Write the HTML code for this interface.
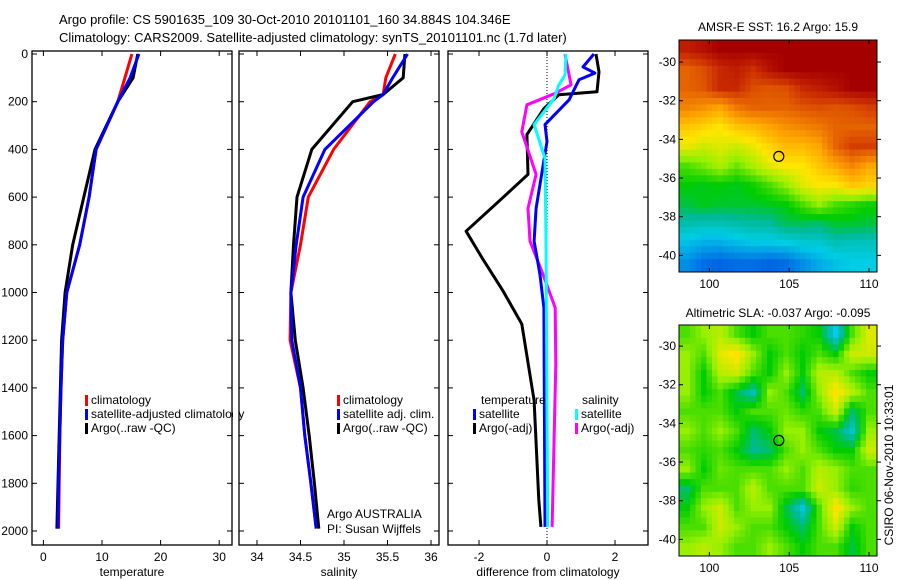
<!DOCTYPE html>
<html><head><meta charset="utf-8"><style>
html,body{margin:0;padding:0;background:#fff;}
svg{display:block;font-family:"Liberation Sans",sans-serif;}
text{font-size:12px;fill:#000;}
</style></head><body>
<svg id="fig" width="900" height="580" viewBox="0 0 900 580">
<text x="59" y="24" style="font-size:13px">Argo profile: CS 5901635_109 30-Oct-2010 20101101_160 34.884S 104.346E</text>
<text x="59" y="42" style="font-size:13px">Climatology: CARS2009. Satellite-adjusted climatology: synTS_20101101.nc (1.7d later)</text>
<g id="g"></g>
</svg>
<script>
// ---- data ----
const tDepth=[0,100,200,400,600,800,1000,1200,1400,1600,1800,1990];
const tempClim=[15.1,13.9,12.7,9.0,7.8,6.2,4.0,3.3,3.0,2.8,2.7,2.6];
const tempSat=[16.3,14.8,12.7,9.0,7.8,6.2,4.0,3.3,3.0,2.8,2.6,2.5];
const tempArgo=[16.1,15.3,12.7,8.8,6.9,5.0,3.7,3.1,2.9,2.7,2.5,2.3];
const sDepth=[0,100,170,200,400,600,800,1000,1200,1400,1600,1800,1990];
const salClim=[35.59,35.48,35.45,35.3,34.88,34.59,34.5,34.39,34.38,34.5,34.55,34.62,34.68];
const salSat=[35.73,35.56,35.45,35.34,34.78,34.53,34.45,34.39,34.4,34.5,34.55,34.62,34.68];
const salArgo=[35.7,35.68,35.45,35.1,34.63,34.46,34.42,34.39,34.44,34.53,34.6,34.66,34.71];
const dTempSatDepth=[0,54,80,108,192,296,367,647,785,923,1064,1983];
const dTempSat=[1.38,1.06,1.41,0.94,0.65,-0.06,0,-0.32,-0.38,-0.21,-0.09,-0.06];
const dTempArgoDepth=[0,75,158,171,229,338,505,605,743,855,994,1132,1453,1870,1983];
const dTempArgo=[1.44,1.53,1.47,0.35,-0.09,-0.59,-0.56,-1.32,-2.38,-1.91,-1.29,-0.74,-0.38,-0.24,-0.18];
const dSalSatDepth=[0,88,129,187,296,438,785,1983];
const dSalSat=[0.56,0.53,0.35,0.21,-0.38,-0.06,-0.03,0.02];
const dSalArgoDepth=[0,88,129,167,213,326,505,647,785,923,1064,1300,1983];
const dSalArgo=[0.53,0.65,0.71,0.21,-0.59,-0.74,-0.32,-0.56,-0.5,-0.12,0.24,0.26,0.15];
const depthTicks=[0,200,400,600,800,1000,1200,1400,1600,1800,2000];
const tempTicks=[0,10,20,30];
const salTicks=[34,34.5,35,35.5,36];
const salTickLabels=["34","34.5","35","35.5","36"];
const diffTicks=[-2,0,2];
const sstGrid=[
[0.95,0.97,1,1,1,1,1,1,1,1,1,1],
[0.85,0.88,0.93,0.95,0.92,0.97,1,1,1,1,1,1],
[0.85,0.87,0.93,0.93,0.88,0.87,0.88,0.93,0.95,0.97,1,1],
[0.8,0.78,0.75,0.82,0.85,0.85,0.85,0.87,0.88,0.87,0.88,0.9],
[0.7,0.68,0.65,0.7,0.72,0.75,0.78,0.8,0.82,0.85,0.85,0.85],
[0.63,0.6,0.62,0.6,0.63,0.68,0.72,0.72,0.75,0.85,0.9,0.9],
[0.5,0.53,0.57,0.52,0.57,0.62,0.65,0.65,0.7,0.75,0.8,0.75],
[0.45,0.44,0.45,0.44,0.46,0.5,0.55,0.62,0.65,0.65,0.7,0.68],
[0.42,0.44,0.43,0.43,0.43,0.44,0.45,0.5,0.55,0.5,0.48,0.46],
[0.36,0.35,0.35,0.36,0.37,0.37,0.41,0.41,0.4,0.43,0.43,0.42],
[0.28,0.25,0.25,0.27,0.29,0.29,0.3,0.32,0.32,0.35,0.34,0.34],
[0.2,0.15,0.13,0.15,0.15,0.13,0.15,0.2,0.25,0.28,0.3,0.3]];
const slaGrid=[
[0.5,0.55,0.58,0.5,0.45,0.5,0.5,0.48,0.45,0.3,0.5,0.62],
[0.55,0.5,0.62,0.66,0.55,0.45,0.5,0.45,0.5,0.45,0.6,0.6],
[0.55,0.45,0.58,0.6,0.5,0.45,0.55,0.45,0.58,0.58,0.5,0.45],
[0.55,0.45,0.5,0.42,0.35,0.55,0.5,0.4,0.55,0.66,0.58,0.5],
[0.5,0.5,0.5,0.45,0.5,0.5,0.52,0.48,0.5,0.6,0.4,0.5],
[0.55,0.5,0.55,0.5,0.4,0.45,0.55,0.55,0.45,0.42,0.33,0.55],
[0.5,0.48,0.5,0.45,0.38,0.4,0.5,0.55,0.5,0.45,0.45,0.6],
[0.55,0.45,0.52,0.5,0.5,0.5,0.55,0.5,0.58,0.55,0.5,0.5],
[0.4,0.5,0.5,0.5,0.58,0.5,0.5,0.5,0.6,0.55,0.48,0.5],
[0.45,0.55,0.6,0.5,0.55,0.55,0.42,0.32,0.5,0.66,0.55,0.5],
[0.5,0.5,0.6,0.55,0.5,0.5,0.45,0.4,0.5,0.6,0.45,0.5],
[0.55,0.58,0.55,0.5,0.5,0.55,0.5,0.45,0.5,0.5,0.42,0.5]];
const lonTicks=[100,105,110];
const latTicks=[-30,-32,-34,-36,-38,-40];
const latTickLabels=["-30","-32","-34","-36","-38","-40"];
const argoLon=104.35, argoLat=-34.88;

// ---- helpers ----
const NS="http://www.w3.org/2000/svg";
const G=document.getElementById('g');
function mk(tag,attrs,parent){const e=document.createElementNS(NS,tag);for(const k in attrs)e.setAttribute(k,attrs[k]);(parent||G).appendChild(e);return e;}
function lin(d0,d1,r0,r1){return v=>r0+(v-d0)*(r1-r0)/(d1-d0);}
const PT=51,PB=545;
const yD=lin(0,2000,54,531);

function panel(name,x0,x1,xs,ticks,labels,xlabel,showY){
  const p=mk('rect',{x:x0,y:PT,width:x1-x0,height:PB-PT,fill:'none',stroke:'#000','stroke-width':1.3});
  
  
  ticks.forEach((t,i)=>{const x=xs(t);
    mk('line',{x1:x,x2:x,y1:PB,y2:PB-5,stroke:'#000'});mk('line',{x1:x,x2:x,y1:PT,y2:PT+5,stroke:'#000'});
    const tx=mk('text',{x:x,y:PB+16,'text-anchor':'middle'});tx.textContent=labels[i];
    
    });
  depthTicks.forEach(d=>{const y=yD(d);
    mk('line',{x1:x0,x2:x0+5,y1:y,y2:y,stroke:'#000'});mk('line',{x1:x1,x2:x1-5,y1:y,y2:y,stroke:'#000'});
    if(showY){const tx=mk('text',{x:x0-4,y:y+4,'text-anchor':'end'});tx.textContent=d;
      
      }});
  const xl=mk('text',{x:(x0+x1)/2,y:576,'text-anchor':'middle'});xl.textContent=xlabel;
  
  
}
function series(name,xs,vals,depths,color){
  const pts=vals.map((v,i)=>xs(v).toFixed(1)+','+yD(depths[i]).toFixed(1)).join(' ');
  const l=mk('polyline',{points:pts,fill:'none',stroke:color,'stroke-width':3,'stroke-linejoin':'round'});
  
  
}
function legend(name,x,y,color,label){
  mk('rect',{x:x,y:y-9,width:3,height:11,fill:color});
  const t=mk('text',{x:x+6,y:y});t.textContent=label;
  
  
}

// panel 1 temperature
const xT=lin(0,30,43.4,219.2);
panel('temperature-panel',32,232,xT,tempTicks,tempTicks.map(String),'temperature',true);
series('temp-climatology-line',xT,tempClim,tDepth,'#ff0000');
series('temp-argo-line',xT,tempArgo,tDepth,'#000000');
series('temp-satellite-line',xT,tempSat,tDepth,'#0000ff');
legend('legend-climatology',85,404,'#ff0000','climatology');
legend('legend-satellite-adjusted',85,418,'#0000ff','satellite-adjusted climatology');
legend('legend-argo-raw',85,432,'#000000','Argo(..raw -QC)');
mk('rect',{x:233,y:395,width:5,height:30,fill:'#fff'});

// panel 2 salinity
const xS=lin(34,36,257,431);
panel('salinity-panel',239,439,xS,salTicks,salTickLabels,'salinity',false);
series('sal-climatology-line',xS,salClim,sDepth,'#ff0000');
series('sal-argo-line',xS,salArgo,sDepth,'#000000');
series('sal-satellite-line',xS,salSat,sDepth,'#0000ff');
legend('legend-sal-climatology',337,404,'#ff0000','climatology');
legend('legend-sal-satellite',337,418,'#0000ff','satellite adj. clim.');
legend('legend-sal-argo',337,432,'#000000','Argo(..raw -QC)');
const a1=mk('text',{x:327,y:518});a1.textContent='Argo AUSTRALIA';


const a2=mk('text',{x:327,y:533});a2.textContent='PI: Susan Wijffels';



// panel 3 difference
const xDf=lin(-2,2,479,615);
panel('difference-panel',448,648,xDf,diffTicks,diffTicks.map(String),'difference from climatology',false);
mk('line',{x1:xDf(0),x2:xDf(0),y1:PT,y2:PB,stroke:'#000','stroke-dasharray':'1,2'});
series('diff-temp-argo-line',xDf,dTempArgo,dTempArgoDepth,'#000000');
series('diff-sal-argo-line',xDf,dSalArgo,dSalArgoDepth,'#ff00ff');
series('diff-temp-satellite-line',xDf,dTempSat,dTempSatDepth,'#0000ff');
series('diff-sal-satellite-line',xDf,dSalSat,dSalSatDepth,'#00ffff');
const lt=mk('text',{x:481,y:404});lt.textContent='temperature';


const ls=mk('text',{x:582,y:404});ls.textContent='salinity';


legend('legend-diff-temp-satellite',473,418,'#0000ff','satellite');
legend('legend-diff-temp-argo',473,432,'#000000','Argo(-adj)');
legend('legend-diff-sal-satellite',575,418,'#00ffff','satellite');
legend('legend-diff-sal-argo',575,432,'#ff00ff','Argo(-adj)');
mk('rect',{x:649,y:420,width:12,height:20,fill:'#fff'});

// maps
const cmapStops=[[0,[0,40,200]],[0.15,[0,110,230]],[0.3,[0,205,230]],[0.38,[0,185,150]],[0.45,[0,205,0]],[0.55,[150,240,0]],[0.65,[255,230,0]],[0.75,[255,165,0]],[0.85,[230,100,0]],[0.93,[200,40,0]],[1,[165,0,0]]];
function cmap(v){v=Math.max(0,Math.min(1,v));
  for(let i=1;i<cmapStops.length;i++){const [a,ca]=cmapStops[i-1],[b,cb]=cmapStops[i];
    if(v<=b){const f=(v-a)/(b-a);return 'rgb('+ca.map((c,k)=>Math.round(c+(cb[k]-c)*f)).join(',')+')';}}
  return 'rgb(165,0,0)';}
function sample(grid,fr,fc){const R=grid.length,C=grid[0].length;
  fr=Math.max(0,Math.min(R-1,fr));fc=Math.max(0,Math.min(C-1,fc));
  const r0=Math.floor(fr),c0=Math.floor(fc),r1=Math.min(R-1,r0+1),c1=Math.min(C-1,c0+1),dr=fr-r0,dc=fc-c0;
  return grid[r0][c0]*(1-dr)*(1-dc)+grid[r0][c1]*(1-dr)*dc+grid[r1][c0]*dr*(1-dc)+grid[r1][c1]*dr*dc;}
function map(name,grid,x0,x1,y0,y1,lat0,lat1,title,ty){
  const lon0=98.1,lon1=110.5;
  const xL=lin(lon0,lon1,x0,x1),yL=lin(lat0,lat1,y0,y1);
  const rows=grid.length,cols=grid[0].length,S=3;
  const cw=(x1-x0)/(cols*S),ch=(y1-y0)/(rows*S);
  for(let r=0;r<rows*S;r++)for(let c=0;c<cols*S;c++){
    const v=sample(grid,(r+0.5)/S-0.5,(c+0.5)/S-0.5);
    const cell=mk('rect',{x:(x0+c*cw).toFixed(2),y:(y0+r*ch).toFixed(2),width:(cw+0.5).toFixed(2),height:(ch+0.5).toFixed(2),fill:cmap(v)});
    
    }
  const f=mk('rect',{x:x0,y:y0,width:x1-x0,height:y1-y0,fill:'none',stroke:'#000'});
  
  
  lonTicks.forEach(t=>{const x=xL(t);mk('line',{x1:x,x2:x,y1:y1,y2:y1-4,stroke:'#000'});mk('line',{x1:x,x2:x,y1:y0,y2:y0+4,stroke:'#000'});
    const tx=mk('text',{x:x,y:y1+16,'text-anchor':'middle'});tx.textContent=t;
    
    });
  latTicks.forEach((t,i)=>{const y=yL(t);mk('line',{x1:x0,x2:x0+4,y1:y,y2:y,stroke:'#000'});mk('line',{x1:x1,x2:x1+4,y1:y,y2:y,stroke:'#000'});
    const tx=mk('text',{x:x0-3,y:y+4,'text-anchor':'end'});tx.textContent=latTickLabels[i];
    
    });
  const c=mk('circle',{cx:xL(argoLon),cy:yL(argoLat),r:5,fill:'none',stroke:'#000','stroke-width':1.2});
  
  
  const tt=mk('text',{x:(x0+x1)/2,y:ty,'text-anchor':'middle'});tt.textContent=title;
  
  
}
map('sst-map',sstGrid,679,877,40,272,-28.86,-40.86,'AMSR-E SST: 16.2 Argo: 15.9',31);
map('sla-map',slaGrid,679,877,325,556,-28.91,-40.86,'Altimetric SLA: -0.037 Argo: -0.095',317);
const st=mk('text',{x:893,y:465,'text-anchor':'middle',transform:'rotate(-90 893 465)'});st.textContent='CSIRO 06-Nov-2010 10:33:01';


</script>
</body></html>
